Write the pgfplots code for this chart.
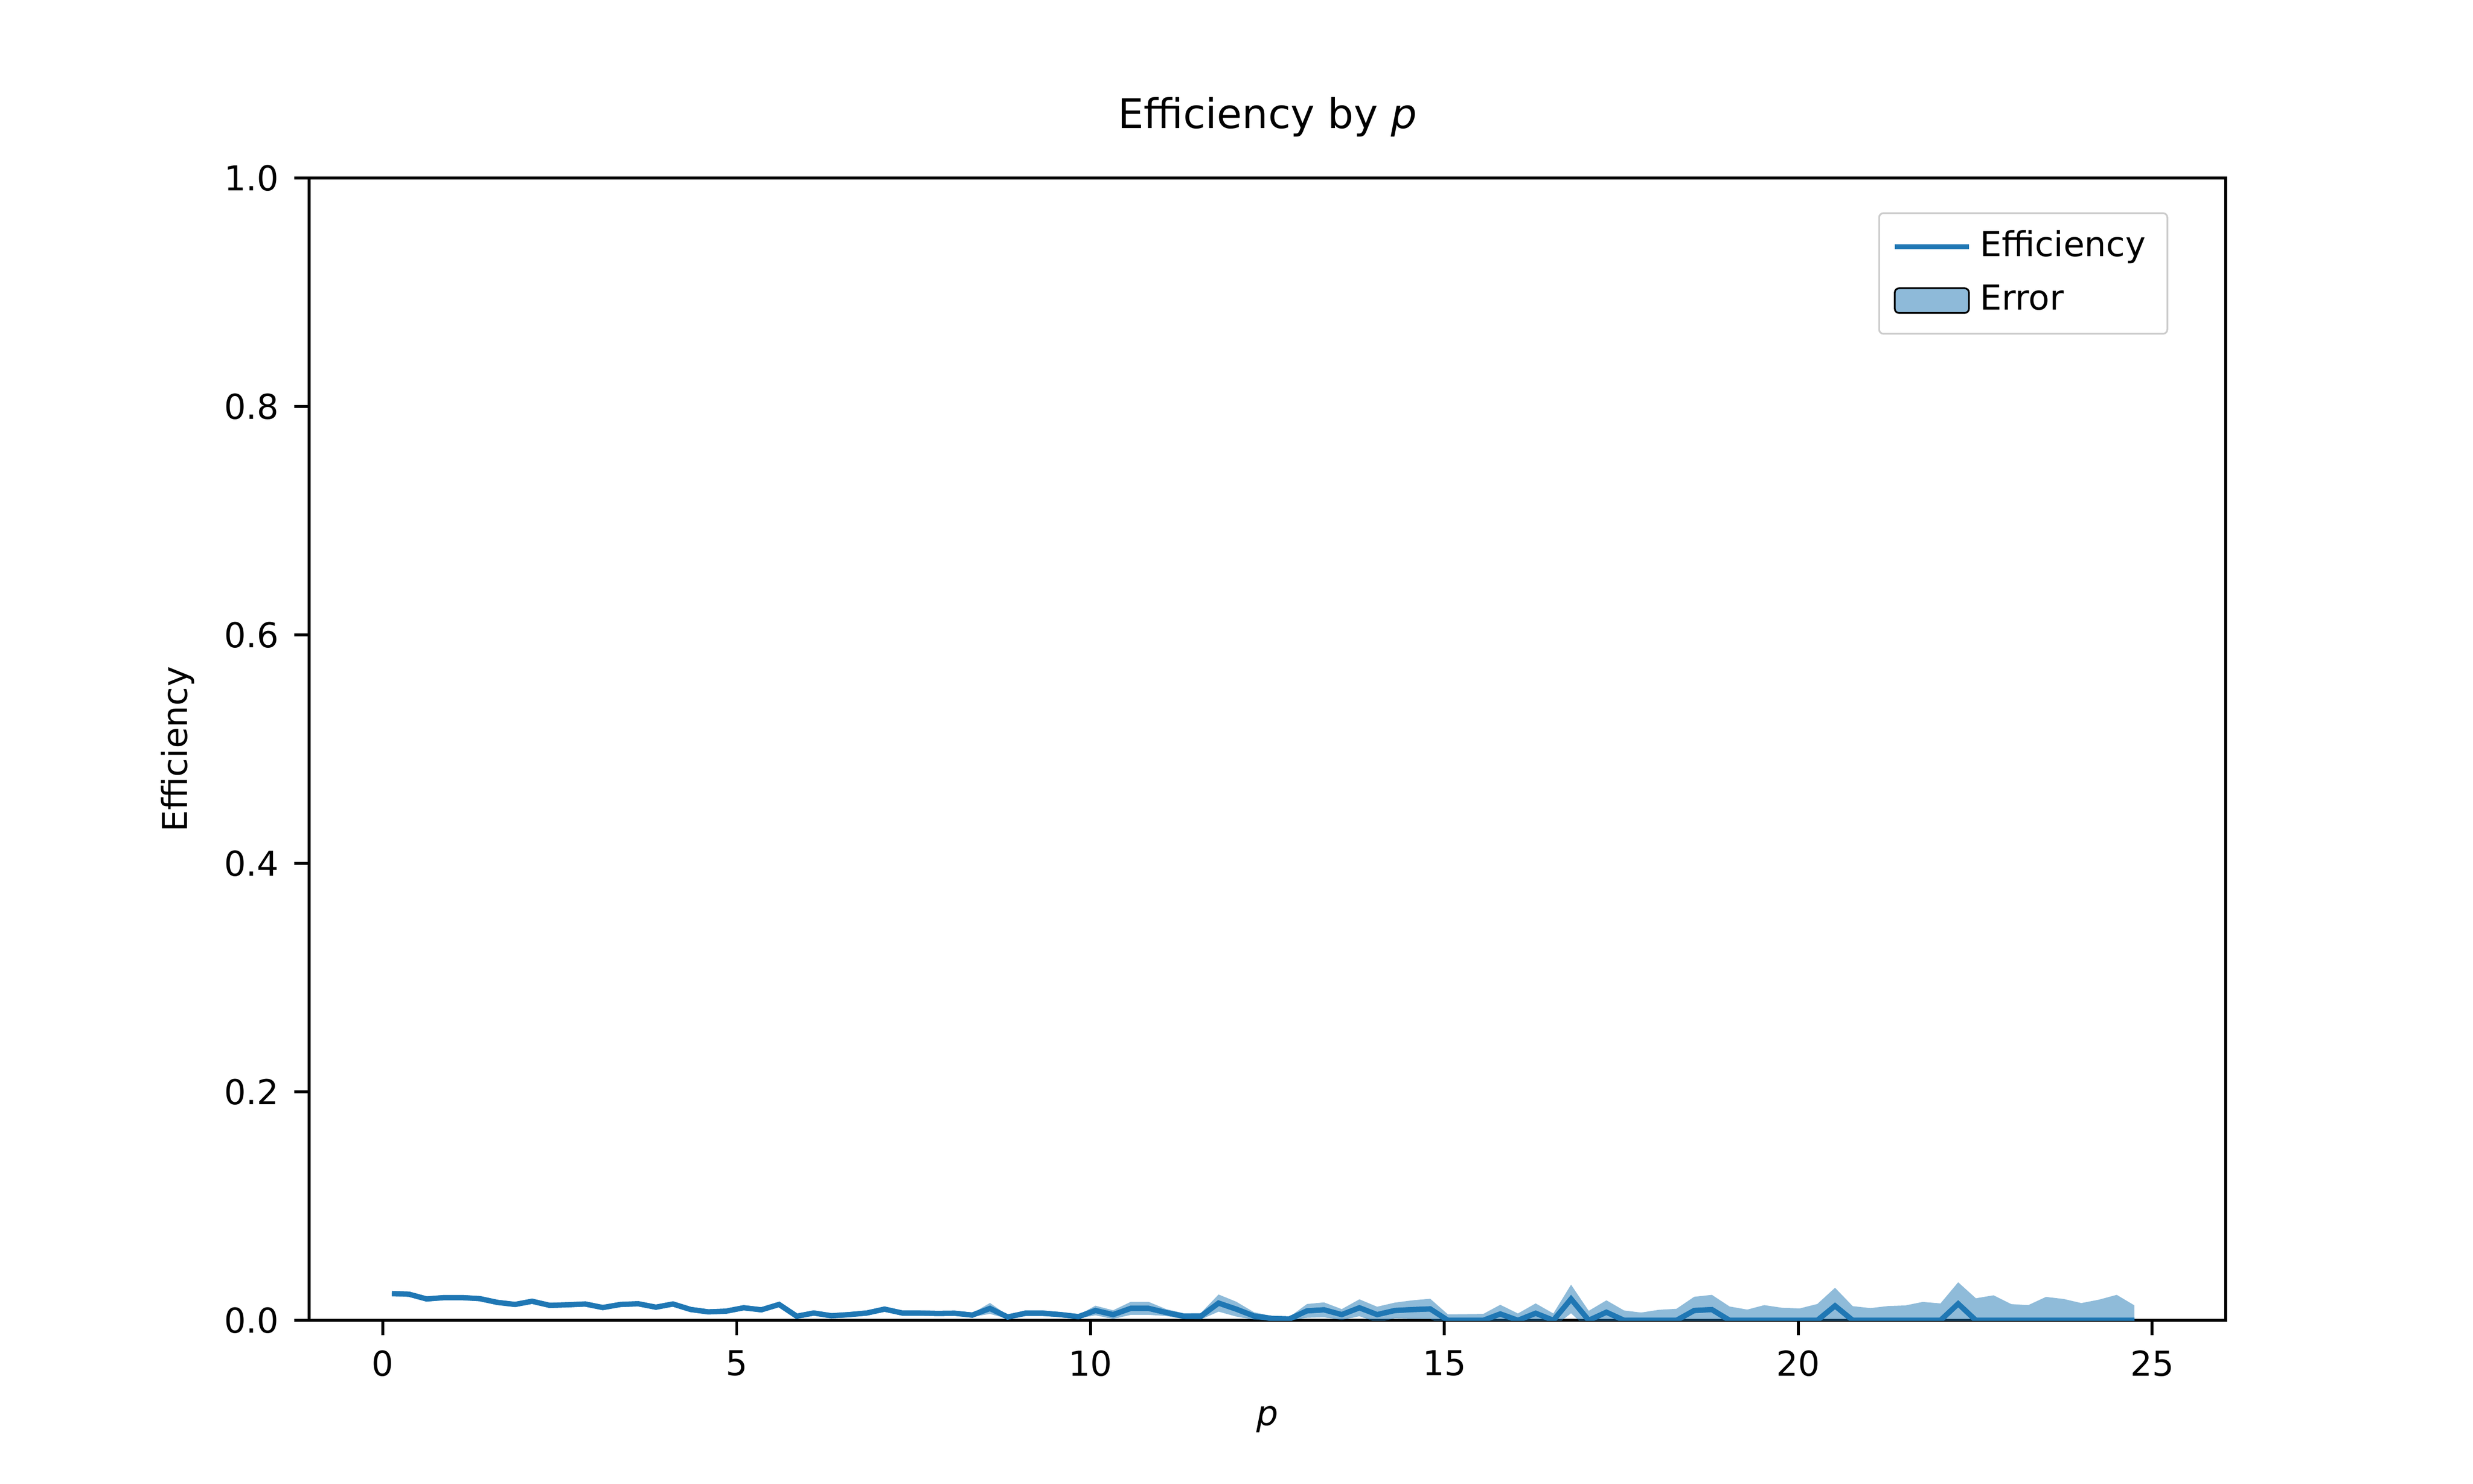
\documentclass[border=0pt]{standalone}
\usepackage{pgfplots}
\pgfplotsset{compat=1.18}
\usepackage{pgfplotstable}
\usepgfplotslibrary{fillbetween}
\usepackage{fontspec}
\setmainfont{DejaVu Sans}
\definecolor{mplblue}{HTML}{1F77B4}
\pgfplotstableread{
x v e
0.13 0.0234 0.0005
0.37 0.0229 0.0005
0.62 0.0187 0.0005
0.87 0.0199 0.0005
1.12 0.0199 0.0005
1.37 0.0190 0.0005
1.62 0.0157 0.0005
1.87 0.0139 0.0005
2.11 0.0167 0.0005
2.36 0.0131 0.0005
2.61 0.0136 0.0005
2.86 0.0143 0.0005
3.11 0.0112 0.0005
3.36 0.0139 0.0005
3.61 0.0145 0.0005
3.86 0.0115 0.0005
4.10 0.0143 0.0005
4.35 0.0095 0.0005
4.60 0.0074 0.0005
4.85 0.0080 0.0005
5.10 0.0110 0.0008
5.35 0.0092 0.0010
5.60 0.0139 0.0012
5.85 0.0036 0.0010
6.09 0.0064 0.0010
6.34 0.0040 0.0010
6.59 0.0050 0.0012
6.84 0.0064 0.0015
7.09 0.0098 0.0024
7.34 0.0064 0.0015
7.59 0.0064 0.0015
7.84 0.0060 0.0015
8.08 0.0062 0.0015
8.33 0.0046 0.0015
8.58 0.0104 0.0048
8.83 0.0029 0.0015
9.08 0.0062 0.0026
9.33 0.0062 0.0026
9.58 0.0050 0.0020
9.83 0.0032 0.0015
10.07 0.0086 0.0042
10.32 0.0050 0.0038
10.57 0.0105 0.0057
10.82 0.0105 0.0057
11.07 0.0068 0.0030
11.32 0.0036 0.0026
11.56 0.0036 0.0028
11.81 0.0151 0.0075
12.06 0.0098 0.0065
12.31 0.0038 0.0033
12.56 0.0017 0.0021
12.81 0.0012 0.0017
13.06 0.0083 0.0060
13.30 0.0092 0.0065
13.55 0.0050 0.0048
13.80 0.0110 0.0074
14.05 0.0050 0.0069
14.30 0.0086 0.0069
14.55 0.0094 0.0081
14.80 0.0100 0.0089
15.05 0.0000 0.0052
15.30 0.0000 0.0054
15.55 0.0000 0.0056
15.79 0.0056 0.0080
16.04 0.0000 0.0060
16.29 0.0062 0.0086
16.54 0.0000 0.0060
16.79 0.0187 0.0125
17.04 0.0000 0.0083
17.29 0.0071 0.0104
17.54 0.0000 0.0086
17.78 0.0000 0.0068
18.03 0.0000 0.0092
18.28 0.0000 0.0101
18.53 0.0086 0.0120
18.78 0.0094 0.0129
19.03 0.0000 0.0121
19.28 0.0000 0.0094
19.52 0.0000 0.0133
19.77 0.0000 0.0110
20.02 0.0000 0.0104
20.27 0.0000 0.0143
20.52 0.0127 0.0158
20.77 0.0000 0.0124
21.02 0.0000 0.0107
21.27 0.0000 0.0125
21.51 0.0000 0.0130
21.76 0.0000 0.0161
22.01 0.0000 0.0148
22.26 0.0145 0.0188
22.51 0.0000 0.0193
22.76 0.0000 0.0219
23.01 0.0000 0.0142
23.25 0.0000 0.0133
23.50 0.0000 0.0205
23.75 0.0000 0.0187
24.00 0.0000 0.0151
24.25 0.0000 0.0181
24.50 0.0000 0.0223
24.75 0.0000 0.0131
}\data
\begin{document}
\begin{tikzpicture}
\path (-2.5cm,-1.32cm) rectangle (17.5cm,10.68cm);
\begin{axis}[
  at={(0,0)}, anchor=south west, scale only axis,
  width=15.5cm, height=9.24cm,
  xmin=-1.04, xmax=26.04, ymin=0, ymax=1,
  xtick={0,5,10,15,20,25},
  ytick={0,0.2,0.4,0.6,0.8,1.0},
  yticklabel style={/pgf/number format/.cd,fixed,fixed zerofill,precision=1},
  /pgf/number format/assume math mode=true,
  tick label style={font=\fontsize{7.9}{9}\selectfont},
  label style={font=\fontsize{7.9}{9}\selectfont},
  title style={font=\fontsize{9.4}{11}\selectfont},
  title={Efficiency by \textit{p}},
  xlabel={\textit{p}}, ylabel={Efficiency},
  tick align=outside, xtick pos=bottom, ytick pos=left,
  major tick length=0.12cm,
  axis line style={line width=0.63pt}, every tick/.style={black,line width=0.63pt},
  legend pos=north east,
  legend style={font=\fontsize{7.9}{9}\selectfont, draw=black!20, rounded corners=1pt, row sep=1pt},
  legend cell align=left,
  clip=true,
]
\addplot[mplblue, line width=1.2pt] table[x=x,y=v]{\data};
\addlegendentry{Efficiency}
\addplot[draw=none, forget plot, name path=hi] table[x=x,y expr=\thisrow{v}+\thisrow{e}]{\data};
\addplot[draw=none, forget plot, name path=lo] table[x=x,y expr=\thisrow{v}-\thisrow{e}]{\data};
\addplot[fill=mplblue, fill opacity=0.5, draw=none, area legend] fill between[of=hi and lo];
\addlegendentry{Error}
\addplot[mplblue, line width=1.2pt, forget plot] table[x=x,y=v]{\data};
\end{axis}
\end{tikzpicture}
\end{document}
